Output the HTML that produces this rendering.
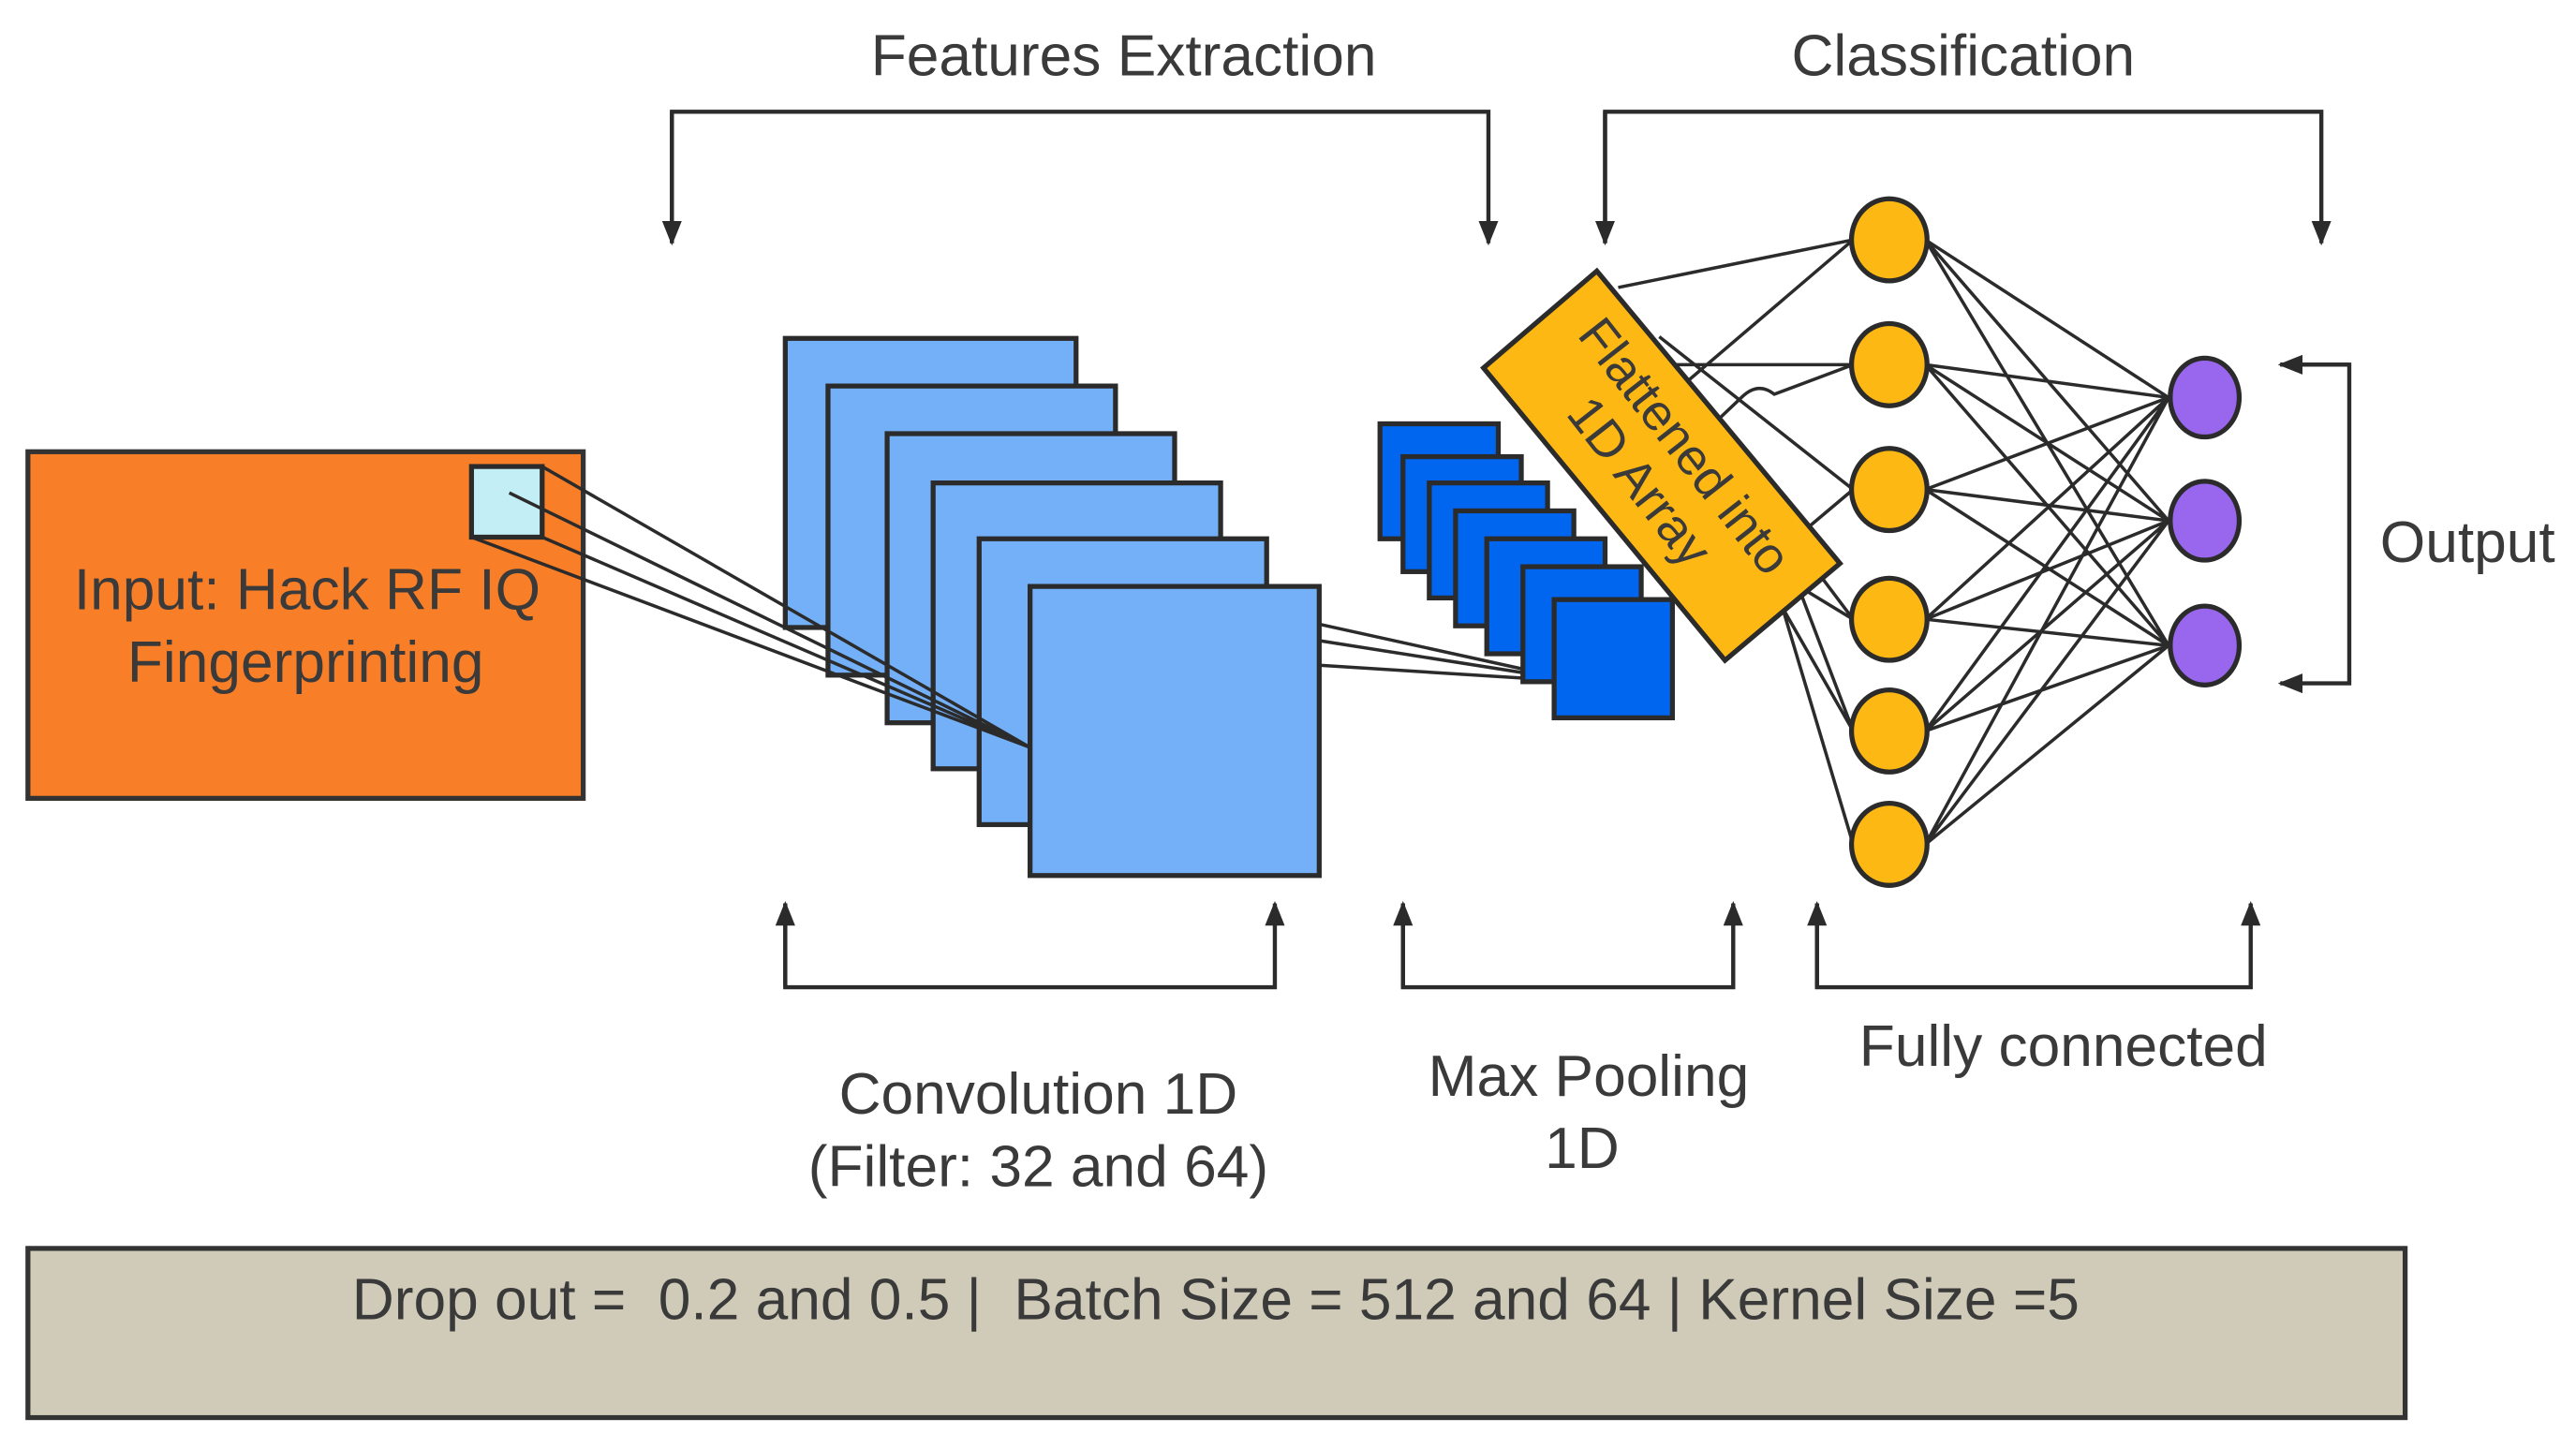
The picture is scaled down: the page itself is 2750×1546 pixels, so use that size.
<!DOCTYPE html>
<html><head><style>html,body{margin:0;padding:0;background:#fff}svg{display:block}</style></head><body>
<svg width="2750" height="1546" viewBox="0 0 1568 881.5" preserveAspectRatio="none" xmlns="http://www.w3.org/2000/svg" font-family="Liberation Sans, sans-serif" fill="#333">
<defs><marker id="a" viewBox="0 0 10 10" refX="9" refY="5" markerWidth="6" markerHeight="6" orient="auto"><path d="M0,1L10,5L0,9z" fill="#2b2b2b"/></marker></defs>
<g font-size="35.5" fill="#3a3a3a">
<text x="684" y="46" text-anchor="middle">Features Extraction</text>
<text x="1195" y="46" text-anchor="middle">Classification</text>
<text x="1502" y="342" text-anchor="middle">Output</text>
<text x="632" y="678" text-anchor="middle">Convolution 1D</text>
<text x="632" y="722" text-anchor="middle">(Filter: 32 and 64)</text>
<text x="967" y="667" text-anchor="middle">Max Pooling</text>
<text x="963" y="711" text-anchor="middle">1D</text>
<text x="1256" y="649" text-anchor="middle">Fully connected</text>
</g>
<g stroke="#2b2b2b" stroke-width="2.5" fill="none">
<path d="M409,148V68H906V148" marker-end="url(#a)"/><path d="M409,68V148" marker-end="url(#a)"/>
<path d="M977,148V68H1413V148" marker-end="url(#a)"/><path d="M977,68V148" marker-end="url(#a)"/>
<path d="M478,550V601H776V550" marker-end="url(#a)"/><path d="M478,601V550" marker-end="url(#a)"/>
<path d="M854,550V601H1055V550" marker-end="url(#a)"/><path d="M854,601V550" marker-end="url(#a)"/>
<path d="M1106,550V601H1370V550" marker-end="url(#a)"/><path d="M1106,601V550" marker-end="url(#a)"/>
<path d="M1388,222H1430V416H1388" marker-end="url(#a)"/><path d="M1430,222H1388" marker-end="url(#a)"/>
</g>
<rect x="17" y="275" width="338" height="211" fill="#F97E28" stroke="#333" stroke-width="3"/>
<g font-size="35.5" fill="#3a3a3a" text-anchor="middle"><text x="187" y="371">Input: Hack RF IQ</text><text x="186" y="415">Fingerprinting</text></g>
<g fill="#74B0F8" stroke="#2b2b2b" stroke-width="3">
<rect x="478" y="206" width="177" height="176"/><rect x="504" y="235" width="175" height="176"/><rect x="540" y="264" width="175" height="176"/><rect x="568" y="294" width="175" height="174"/><rect x="596" y="328" width="175" height="174"/><rect x="627" y="357" width="176" height="176"/>
</g>
<rect x="287" y="284" width="43" height="43" fill="#C3EEF5" stroke="#2b2b2b" stroke-width="3"/>
<g stroke="#2b2b2b" stroke-width="2" fill="none">
<path d="M330,284L627,455M330,327L627,455M287,327L627,455M310,300L627,455"/>
<path d="M803,380L962,415M803,390L962,415M803,405L962,415"/>
</g>
<g fill="#0066F0" stroke="#2b2b2b" stroke-width="3">
<rect x="840" y="258" width="72" height="70"/><rect x="854" y="278" width="72" height="70"/><rect x="870" y="294" width="72" height="70"/><rect x="886" y="311" width="72" height="70"/><rect x="905" y="328" width="72" height="70"/><rect x="927" y="345" width="72" height="70"/><rect x="946" y="365" width="72" height="72"/>
</g>
<g stroke="#2b2b2b" stroke-width="2" fill="none">
<path d="M985,175L1128,146M1128,146L1012,245M1015,222L1128,222M1128,222L1080,240Q1070,232 1060,242L1020,280M1010,205L1128,298M1040,260L1128,377M1090,330L1128,298M1085,370L1128,445M1085,370L1128,514M1100,360L1128,377M1090,345L1128,445"/>
</g>
<polygon points="972,165 903,224 1050,402 1120,343" fill="#FDB813" stroke="#2b2b2b" stroke-width="3"/>
<text x="0" y="0" font-size="31" fill="#3a3a3a" text-anchor="middle" transform="translate(1011,283) rotate(52)"><tspan x="0" y="-8">Flattened into</tspan><tspan x="0" y="27">1D Array</tspan></text>
<g stroke="#2b2b2b" stroke-width="2">
<path d="M1172,146L1320,242M1172,146L1320,317M1172,146L1320,393M1172,222L1320,242M1172,222L1320,317M1172,222L1320,393M1172,298L1320,242M1172,298L1320,317M1172,298L1320,393M1172,377L1320,242M1172,377L1320,317M1172,377L1320,393M1172,445L1320,242M1172,445L1320,317M1172,445L1320,393M1172,514L1320,242M1172,514L1320,317M1172,514L1320,393"/>
</g>
<g fill="#FDB813" stroke="#2b2b2b" stroke-width="3">
<ellipse cx="1150" cy="146" rx="23" ry="25"/><ellipse cx="1150" cy="222" rx="23" ry="25"/><ellipse cx="1150" cy="298" rx="23" ry="25"/><ellipse cx="1150" cy="377" rx="23" ry="25"/><ellipse cx="1150" cy="445" rx="23" ry="25"/><ellipse cx="1150" cy="514" rx="23" ry="25"/>
</g>
<g fill="#9966EE" stroke="#2b2b2b" stroke-width="3">
<ellipse cx="1342" cy="242" rx="21" ry="24"/><ellipse cx="1342" cy="317" rx="21" ry="24"/><ellipse cx="1342" cy="393" rx="21" ry="24"/>
</g>
<rect x="17" y="760" width="1447" height="103" fill="#CFCBB8" stroke="#333" stroke-width="3"/>
<text x="740" y="803" font-size="35.5" fill="#3a3a3a" text-anchor="middle" xml:space="preserve">Drop out =  0.2 and 0.5 |  Batch Size = 512 and 64 | Kernel Size =5</text>
</svg>
</body></html>
